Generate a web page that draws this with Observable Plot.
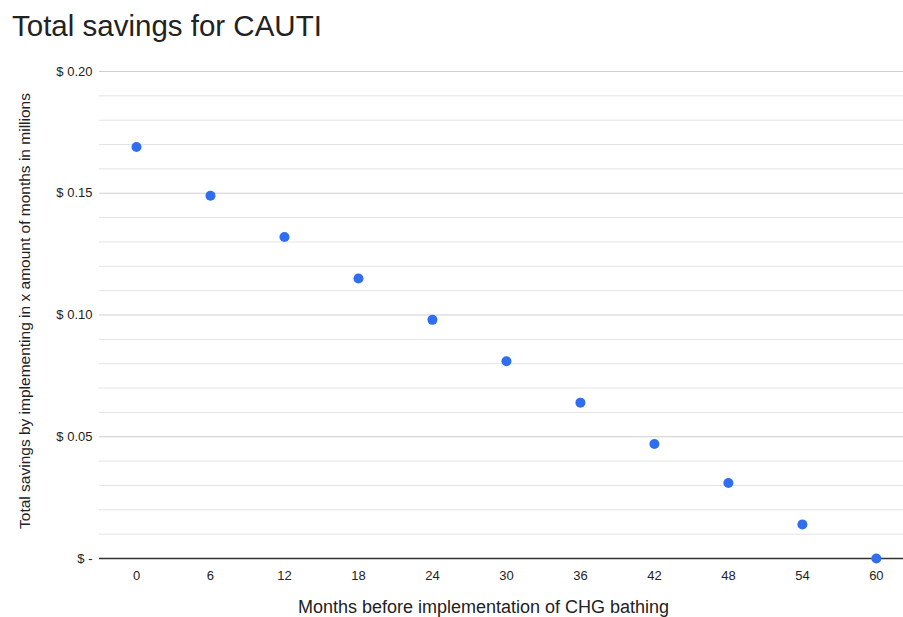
<!DOCTYPE html>
<html>
<head>
<meta charset="utf-8">
<script src="https://cdn.jsdelivr.net/npm/d3@7"></script>
<script src="https://cdn.jsdelivr.net/npm/@observablehq/plot@0.6"></script>
<style>
  body { margin: 0; background: #fff; font-family: "Liberation Sans", Arial, Helvetica, sans-serif; }
  #title { height: 50px; padding-left: 12px; font-size: 29.5px; line-height: 52px; color: #222; white-space: nowrap; }
  #chart svg { display: block; }
</style>
</head>
<body>
<div id="title">Total savings for CAUTI</div>
<div id="chart"></div>
<script>
const months = [0, 6, 12, 18, 24, 30, 36, 42, 48, 54, 60];
const savings = [0.169, 0.149, 0.132, 0.115, 0.098, 0.081, 0.064, 0.047, 0.031, 0.014, 0];
const yMajorTicks = [0, 0.05, 0.10, 0.15, 0.20];
const yMinorTicks = [0.01, 0.02, 0.03, 0.04, 0.06, 0.07, 0.08, 0.09, 0.11, 0.12, 0.13, 0.14, 0.16, 0.17, 0.18, 0.19];

const data = months.map((m, i) => ({month: m, value: savings[i]}));
const fmt = v => v === 0 ? "$ -" : "$ " + v.toFixed(2);

const chart = Plot.plot({
  width: 903,
  height: 567,
  marginLeft: 99,
  marginRight: 0,
  marginTop: 21,
  marginBottom: 59,
  style: {fontFamily: "'Liberation Sans', Arial, Helvetica, sans-serif", fontSize: "13px", color: "#222", background: "#fff"},
  x: {domain: [-3, 62.2], ticks: months, tickFormat: d => String(d), tickSize: 0, tickPadding: 12,
      label: "Months before implementation of CHG bathing", labelAnchor: "center", labelArrow: "none", labelOffset: 54},
  y: {domain: [0, 0.2], ticks: yMajorTicks, tickFormat: fmt, tickSize: 0, tickPadding: 7,
      label: "Total savings by implementing in x amount of months in millions", labelAnchor: "center", labelArrow: "none", labelOffset: 81},
  marks: [
    Plot.ruleY(yMinorTicks, {stroke: "#e3e3e3", strokeWidth: 1}),
    Plot.ruleY(yMajorTicks.filter(d => d !== 0), {stroke: "#cfcfcf", strokeWidth: 1}),
    Plot.ruleY([0], {stroke: "#333", strokeWidth: 1.5}),
    Plot.dot(data, {x: "month", y: "value", r: 5, fill: "#2f6fef", stroke: "none"})
  ]
});

d3.select(chart).selectAll("g[aria-label='x-axis label'] text").style("font-size", "18px").style("fill", "#222").attr("dx", "-18");
d3.select(chart).selectAll("g[aria-label='y-axis label'] text").style("font-size", "15.5px").style("fill", "#222").attr("dx", "4");
document.getElementById("chart").append(chart);
</script>
</body>
</html>
